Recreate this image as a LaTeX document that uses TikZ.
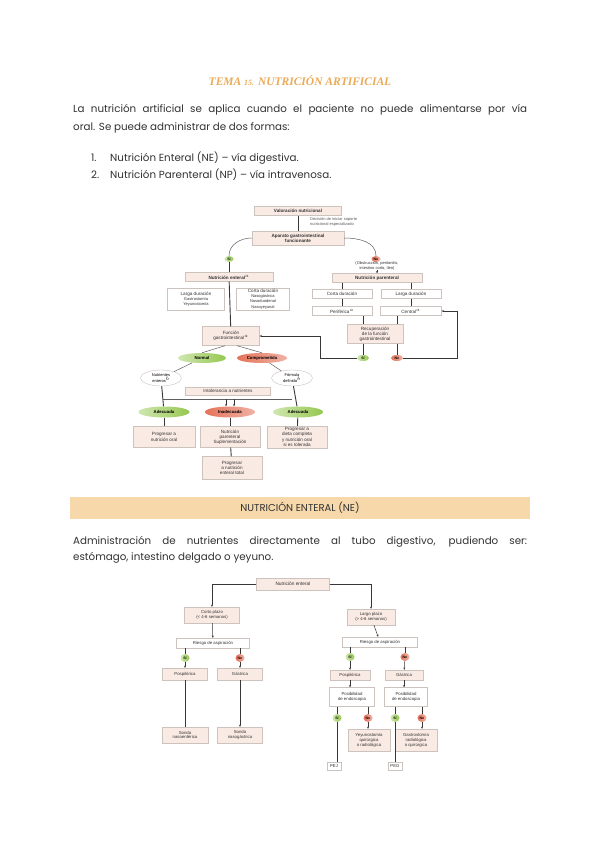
\documentclass[tikz,border=0pt]{standalone}
\usepackage{fontspec}
\setmainfont{Poppins}
\newfontfamily\diagfont{Liberation Sans}
\newfontfamily\titfont{Liberation Serif}
\usepackage{xcolor}
\usetikzlibrary{shapes.geometric, arrows.meta, positioning, shadows}
\definecolor{naranjaTit}{RGB}{234, 170, 88}
\definecolor{barraNar}{RGB}{247, 216, 170}
\definecolor{rosaCaja}{RGB}{250, 234, 228}
\definecolor{bordeCaja}{RGB}{205, 195, 190}
\definecolor{verdeSi}{RGB}{150, 200, 80}
\definecolor{rojoNo}{RGB}{228, 115, 90}
\definecolor{grisLinea}{RGB}{55, 55, 55}
\definecolor{grisTexto}{RGB}{50, 50, 50}
\newcommand{\pq}[1]{{\fontsize{4}{4.5}\selectfont #1}}

\begin{document}
\begin{tikzpicture}[x=1pt, y=-1pt,
  txt/.style={anchor=base west, inner sep=0pt, text=grisTexto,
    font=\fontsize{10.3}{14}\selectfont},
  caja/.style={rectangle, draw=bordeCaja, fill=rosaCaja, line width=0.4pt,
    drop shadow={shadow xshift=0.7pt, shadow yshift=-0.7pt, opacity=0.25},
    align=center, inner sep=0.5pt, text=grisTexto,
    font=\diagfont\fontsize{4.6}{5.2}\selectfont},
  cajab/.style={caja, fill=white},
  chica/.style={caja, font=\diagfont\fontsize{4.3}{4.9}\selectfont},
  chicab/.style={chica, fill=white},
  si/.style={ellipse, left color=verdeSi!45, right color=verdeSi,
    inner sep=0pt, minimum width=9pt, minimum height=6pt,
    font=\diagfont\bfseries\fontsize{3.5}{4}\selectfont},
  no/.style={si, left color=rojoNo, right color=rojoNo!55},
  ovalo/.style={ellipse, draw=bordeCaja, fill=white, inner sep=0pt,
    align=center, font=\diagfont\fontsize{4}{4.5}\selectfont},
  lin/.style={draw=grisLinea, line width=0.9pt},
  fina/.style={draw=grisLinea!80, line width=0.5pt},
  arr/.style={-{Stealth[length=2.2pt, width=2pt]}, draw=grisLinea,
    line width=0.5pt},
]
\fill[white] (0,0) rectangle (600,848);

\node[text=naranjaTit, font=\titfont\bfseries\itshape\fontsize{11.5}{13}\selectfont]
  (titulo) at (300,81) {TEMA {\fontsize{8}{9}\selectfont 15.} NUTRICIÓN ARTIFICIAL};
\node[txt] (par1a) at (73,113)
  {\makebox[454pt][s]{La nutrición artificial se aplica cuando el paciente no puede alimentarse por vía}};
\node[txt] (par1b) at (73,131) {oral. Se puede administrar de dos formas:};
\node[txt] (num1) at (91,161) {1.};
\node[txt] (item1) at (110,161) {Nutrición Enteral (NE) – vía digestiva.};
\node[txt] (num2) at (91,178) {2.};
\node[txt] (item2) at (110,178) {Nutrición Parenteral (NP) – vía intravenosa.};

\node[caja, font=\diagfont\bfseries\fontsize{4.6}{5.2}\selectfont,
  minimum width=87, minimum height=9] (val) at (298,211) {Valoración nutricional};
\node[anchor=west, inner sep=0pt, align=left, text=grisTexto!80,
  font=\diagfont\fontsize{4}{4.5}\selectfont] (dec) at (310,222)
  {Decisión de iniciar soporte\\nutricional especializado};
\node[caja, font=\diagfont\bfseries\fontsize{4.6}{5.2}\selectfont,
  minimum width=92, minimum height=14] (apa) at (298,238)
  {Aparato gastrointestinal\\funcionante};
\node[si] (si1) at (229,259) {Sí};
\node[no] (no1) at (376,259) {No};
\node[inner sep=0pt, align=center, text=grisTexto,
  font=\diagfont\fontsize{4}{4.5}\selectfont] (obs) at (377,266)
  {(Obstrucción, peritonitis,\\intestino corto, íleo)};
\node[caja, font=\diagfont\bfseries\fontsize{4.6}{5.2}\selectfont,
  minimum width=88, minimum height=9] (ne) at (229,277) {Nutrición enteral$^a$};
\node[caja, font=\diagfont\bfseries\fontsize{4.6}{5.2}\selectfont,
  minimum width=90, minimum height=9] (np) at (377,278) {Nutrición parenteral};

\node[cajab, minimum width=57, minimum height=22] (ldur) at (196,299)
  {Larga duración\\\pq{Gastrostomía}\\\pq{Yeyunostomía}};
\node[cajab, minimum width=53, minimum height=22] (cdur) at (263,299)
  {Corta duración\\\pq{Nasogástrica}\\\pq{Nasoduodenal}\\\pq{Nasoyeyunal}};
\node[cajab, minimum width=60, minimum height=9] (corta) at (342,294) {Corta duración};
\node[cajab, minimum width=60, minimum height=9] (larga) at (411,294) {Larga duración};
\node[cajab, minimum width=60, minimum height=9] (perif) at (342,311) {Periférica$^a$};
\node[cajab, minimum width=61, minimum height=9] (central) at (411,311) {Central$^a$};
\node[caja, minimum width=57, minimum height=19] (func) at (231,336)
  {Función\\gastrointestinal$^a$};
\node[caja, minimum width=56, minimum height=19] (rec) at (375,334)
  {Recuperación\\de la función\\gastrointestinal};
\node[si, minimum width=12] (si2) at (363,358) {Sí};
\node[no, minimum width=12] (no2) at (397,358) {No};

\node[si, minimum width=48, minimum height=10,
  font=\diagfont\bfseries\fontsize{4.3}{5}\selectfont] (normal) at (202,358) {Normal};
\node[no, minimum width=50, minimum height=10,
  font=\diagfont\bfseries\fontsize{4.3}{5}\selectfont] (compr) at (262,358) {Comprometida};
\node[ovalo, minimum width=41, minimum height=16] (nent) at (161,378)
  {Nutrientes\\enteros$^b$};
\node[ovalo, minimum width=41, minimum height=16] (form) at (292,378)
  {Fórmula\\definida$^b$};
\node[caja, minimum width=85, minimum height=8] (intol) at (228,391)
  {Intolerancia a nutrientes};
\node[si, minimum width=51, minimum height=11,
  font=\diagfont\bfseries\fontsize{4.3}{5}\selectfont] (adec1) at (164,412) {Adecuada};
\node[no, minimum width=50, minimum height=11,
  font=\diagfont\bfseries\fontsize{4.3}{5}\selectfont] (inad) at (230,412) {Inadecuada};
\node[si, minimum width=50, minimum height=11,
  font=\diagfont\bfseries\fontsize{4.3}{5}\selectfont] (adec2) at (298,412) {Adecuada};
\node[caja, minimum width=62, minimum height=21] (prog1) at (164,437)
  {Progresar a\\nutrición oral};
\node[caja, minimum width=60, minimum height=21] (npsup) at (230,437)
  {Nutrición\\parenteral\\Suplementación};
\node[caja, minimum width=60, minimum height=22] (prog2) at (297,437)
  {Progresar a\\dieta completa\\y nutrición oral\\si es tolerada};
\node[caja, minimum width=60, minimum height=23] (progent) at (232,468)
  {Progresar\\a nutrición\\enteral total};

\coordinate (lazoSi) at (320,0);
\coordinate (lazoNo) at (457,0);
\coordinate (cruce) at (163,399);

\draw[lin] (val) -- (apa);
\draw[fina] (apa.west) to[out=180, in=90] (si1.north);
\draw[fina] (apa.east) to[out=0, in=90] (no1.north);
\draw[lin] (si1) -- (ne);
\draw[arr] (obs) -- (np);
\draw[lin] (ne) -- (func);
\draw[lin] (np.south -| corta) -- (corta);
\draw[lin] (np.south -| larga) -- (larga);
\draw[lin] (corta) -- (perif);
\draw[lin] (larga) -- (central);
\draw[lin] (perif.south -| si2) -- (rec.north -| si2);
\draw[lin] (central.south -| no2) -- (rec.north -| no2);
\draw[lin] (rec.south -| si2) -- (si2);
\draw[lin] (rec.south -| no2) -- (no2);
\draw[arr] (si2.west) -| (lazoSi |- func.east) -- (func.east);
\draw[arr] (no2.east) -| (lazoNo |- central.east) -- (central.east);
\draw[fina] ([xshift=-6pt]func.south) -- (normal.north);
\draw[fina] ([xshift=6pt]func.south) -- (compr.north);
\draw[fina] (normal) -- (nent);
\draw[fina] (compr) -- (form);
\draw[lin] (nent) -- (adec1);
\draw[lin] (form) -- (adec2);
\draw[fina] (cruce) -- (cruce -| form.south);
\draw[arr] ([xshift=-4pt]cruce -| inad.north) -- ([xshift=-4pt]inad.north);
\draw[arr] ([xshift=4pt]cruce -| inad.north) -- ([xshift=4pt]inad.north);
\draw[lin] (adec1) -- (prog1);
\draw[lin] (inad) -- (npsup);
\draw[lin] (adec2) -- (prog2);
\draw[lin] (npsup) -- (progent);

\node[rectangle, fill=barraNar, minimum width=460, minimum height=22,
  inner sep=0pt, text=grisTexto, font=\fontsize{10}{12}\selectfont]
  (barra) at (300,508) {NUTRICIÓN ENTERAL (NE)};
\node[txt] (par2a) at (73,544)
  {\makebox[454pt][s]{Administración de nutrientes directamente al tubo digestivo, pudiendo ser:}};
\node[txt] (par2b) at (73,560) {estómago, intestino delgado o yeyuno.};

\node[chica, minimum width=73, minimum height=12,
  font=\diagfont\fontsize{4.8}{5.4}\selectfont] (nent2) at (293,584) {Nutrición enteral};
\node[chica, minimum width=55, minimum height=16] (corto) at (212,615)
  {Corto plazo\\(< 4-6 semanas)};
\node[chica, minimum width=48, minimum height=16] (largo) at (371,617)
  {Largo plazo\\(> 4-6 semanas)};
\node[chicab, minimum width=73, minimum height=10] (riesgo1) at (213,643)
  {Riesgo de aspiración};
\node[chicab, minimum width=75, minimum height=10] (riesgo2) at (380,642)
  {Riesgo de aspiración};
\node[si, minimum height=8] (si3) at (185,658) {Sí};
\node[no, minimum height=8] (no3) at (240,658) {No};
\node[si, minimum height=8] (si4) at (350,657) {Sí};
\node[no, minimum height=8] (no4) at (405,657) {No};
\node[chica, minimum width=45, minimum height=12] (pos1) at (185,674) {Pospilórica};
\node[chica, minimum width=45, minimum height=12] (gas1) at (240,674) {Gástrica};
\node[chica, minimum width=40, minimum height=10] (pos2) at (350,675) {Pospilórica};
\node[chica, minimum width=38, minimum height=10] (gas2) at (404,675) {Gástrica};
\node[chicab, minimum width=45, minimum height=19] (posib1) at (352,697)
  {Posibilidad\\de endoscopia};
\node[chicab, minimum width=43, minimum height=19] (posib2) at (406,697)
  {Posibilidad\\de endoscopia};
\node[si, minimum height=8] (si5) at (337,718) {Sí};
\node[no, minimum height=8] (no5) at (368,718) {No};
\node[si, minimum height=8] (si6) at (395,718) {Sí};
\node[no, minimum height=8] (no6) at (422,718) {No};
\node[chica, minimum width=46, minimum height=16] (sonda1) at (185,735)
  {Sonda\\nasoentérica};
\node[chica, minimum width=45, minimum height=16] (sonda2) at (240,735)
  {Sonda\\nasogástrica};
\node[chica, minimum width=42, minimum height=22] (yey) at (369,740)
  {Yeyunostomía\\quirúrgica\\o radiológica};
\node[chica, minimum width=42, minimum height=22] (gast) at (416,740)
  {Gastrostomía\\radiológica\\o quirúrgica};
\node[chicab, minimum width=14, minimum height=8] (pej) at (334,766) {PEJ};
\node[chicab, minimum width=14, minimum height=8] (peg) at (395,766) {PEG};

\draw[arr] (nent2.west) -| (corto.north);
\draw[arr] (nent2.east) -| (largo.north);
\draw[arr] (corto) -- (riesgo1);
\draw[arr] (largo) -- (riesgo2);
\draw[lin] (riesgo1.south -| si3) -- (si3);
\draw[lin] (riesgo1.south -| no3) -- (no3);
\draw[lin] (riesgo2.south -| si4) -- (si4);
\draw[lin] (riesgo2.south -| no4) -- (no4);
\draw[arr] (si3) -- (pos1);
\draw[arr] (no3) -- (gas1);
\draw[arr] (si4) -- (pos2);
\draw[arr] (no4) -- (gas2);
\draw[lin] (pos1) -- (sonda1);
\draw[arr] (gas1) -- (sonda2);
\draw[arr] (pos2) -- (posib1.north -| pos2);
\draw[arr] (gas2) -- (posib2.north -| gas2);
\draw[lin] (posib1.south -| si5) -- (si5);
\draw[lin] (posib1.south -| no5) -- (no5);
\draw[lin] (posib2.south -| si6) -- (si6);
\draw[lin] (posib2.south -| no6) -- (no6);
\draw[lin] (si5) -- (pej.north -| si5);
\draw[arr] (no5) -- (yey.north -| no5);
\draw[lin] (si6) -- (peg.north -| si6);
\draw[arr] (no6) -- (gast.north -| no6);
\end{tikzpicture}
\end{document}
